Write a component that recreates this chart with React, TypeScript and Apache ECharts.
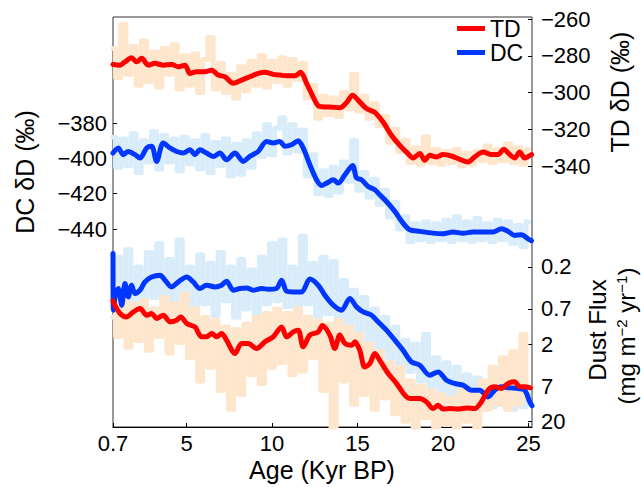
import React, { useEffect, useRef } from "react";
import * as echarts from "echarts";

const FONT = '"Liberation Sans", Arial, Helvetica, sans-serif';
const RED = "#ff0000";
const BLUE = "#0037ff";
const ORANGE_L = "#fde6cc";
const BLUE_L = "#d9ecfa";

const xTicks = [0.7, 5, 10, 15, 20, 25];
const dcTicks = [-440, -420, -400, -380];
const tdTicks = [-340, -320, -300, -280, -260];
const dustTicks = [0.2, 0.7, 2, 7, 20];

// raw (unsmoothed) records, shared age grid (kyr BP)
const rawAge = [0.7,1.0,1.3,1.6,1.9,2.2,2.5,2.8,3.1,3.4,3.7,4.0,4.3,4.6,4.9,5.2,5.5,5.8,6.1,6.4,6.7,7.0,7.3,7.6,7.9,8.2,8.5,8.8,9.1,9.4,9.7,10.0,10.3,10.6,10.9,11.2,11.5,11.8,12.1,12.4,12.7,13.0,13.3,13.6,13.9,14.2,14.5,14.8,15.1,15.4,15.7,16.0,16.3,16.6,16.9,17.2,17.5,17.8,18.1,18.4,18.7,19.0,19.3,19.6,19.9,20.2,20.5,20.8,21.1,21.4,21.7,22.0,22.3,22.6,22.9,23.2,23.5,23.8,24.1,24.4,24.7,25.0];
const tdDDRaw = [-276,-292,-263,-290,-275,-296,-272,-294,-278,-297,-276,-290,-274,-298,-280,-296,-279,-300,-282,-270,-298,-284,-300,-290,-303,-286,-299,-283,-296,-280,-297,-283,-294,-281,-296,-282,-293,-284,-303,-296,-314,-302,-312,-303,-313,-300,-309,-290,-310,-302,-314,-306,-318,-313,-327,-320,-332,-326,-338,-330,-339,-324,-338,-331,-339,-332,-338,-331,-340,-333,-339,-332,-337,-329,-338,-331,-337,-328,-338,-330,-339,-331];
const dcDDRaw = [-388,-405,-389,-404,-386,-408,-390,-402,-385,-406,-387,-402,-389,-407,-388,-403,-390,-406,-387,-408,-391,-404,-389,-410,-392,-409,-390,-405,-386,-399,-381,-398,-383,-377,-397,-381,-396,-384,-410,-398,-420,-407,-421,-405,-419,-402,-413,-390,-418,-408,-422,-412,-426,-418,-433,-425,-440,-433,-447,-437,-446,-436,-447,-437,-446,-435,-447,-433,-446,-436,-447,-434,-446,-437,-447,-435,-446,-436,-448,-438,-450,-436];
const dcDustRaw = [0.9,0.15,0.7,0.12,0.6,0.2,0.8,0.13,0.5,0.1,0.55,0.16,0.7,0.09,0.5,0.2,0.75,0.14,0.6,0.18,0.85,0.13,0.55,0.2,0.9,0.16,0.7,0.22,0.8,0.15,0.6,0.1,0.55,0.09,0.65,0.2,0.75,0.08,0.6,0.18,0.9,0.15,0.8,0.17,1.1,0.3,1.2,0.4,1.4,0.5,1.8,0.7,2.4,0.9,3.0,1.2,3.8,1.8,4.5,2.0,6.0,1.5,7.0,3.0,9.0,3.5,10,4.0,12,5.0,13,5.5,14,6.0,13,4.5,12,5.0,14,5.5,13,9];
const tdDustRaw = [0.35,1.6,0.5,2.2,0.6,1.8,0.55,2.4,0.7,1.6,0.5,2.6,0.6,1.9,0.45,3.0,0.7,6.0,0.9,4.0,1.0,8.0,1.2,14,1.3,9.0,1.1,5.0,0.9,6.5,0.8,4.0,0.7,3.5,0.8,5.0,0.7,4.5,0.9,3.0,1.0,8.0,1.1,24,1.0,6.0,1.2,12,1.5,9.0,2.0,14,2.5,10,3.5,16,4.0,20,6.0,24,7.0,18,8.0,24,9.0,22,10,24,8.0,20,9.0,24,6.0,14,4.0,12,3.0,14,2.5,12,1.5,10];

// smoothed records [age, value]
const tdDD = [[0.7,-284.7],[1.11,-285.1],[1.40,-283.3],[1.79,-281.1],[2.08,-283.3],[2.38,-281.4],[2.76,-285.1],[3.15,-284.1],[3.64,-285.1],[4.13,-284.7],[4.52,-286.0],[4.91,-285.1],[5.20,-289.6],[5.59,-288.7],[6.08,-288.7],[6.47,-287.8],[6.85,-290.5],[7.24,-291.4],[7.73,-295.0],[8.22,-293.2],[8.70,-291.4],[9.19,-289.6],[9.58,-289.0],[10.07,-290.1],[10.46,-290.5],[10.85,-290.9],[11.33,-290.9],[11.67,-289.0],[12.02,-295.0],[12.40,-302.3],[12.70,-307.2],[13.09,-307.8],[13.38,-307.8],[13.96,-308.3],[14.36,-305.4],[14.71,-301.4],[15.03,-304.1],[15.52,-308.7],[16.01,-310.8],[16.49,-316.0],[16.98,-323.2],[17.47,-328.7],[17.95,-333.2],[18.25,-335.6],[18.64,-333.2],[18.93,-336.8],[19.22,-334.1],[19.61,-335.0],[20.00,-333.7],[20.49,-334.5],[20.98,-336.3],[21.46,-337.8],[21.85,-335.0],[22.34,-332.3],[22.83,-333.7],[23.21,-333.7],[23.55,-330.8],[23.90,-333.7],[24.19,-335.6],[24.48,-332.3],[24.77,-335.6],[25.17,-333.7]];
const dcDD = [[0.7,-397.0],[1.01,-394.1],[1.30,-397.9],[1.59,-396.1],[1.99,-397.9],[2.28,-399.8],[2.67,-394.1],[2.96,-393.2],[3.25,-401.7],[3.64,-391.3],[4.03,-394.1],[4.42,-396.1],[4.81,-397.0],[5.20,-395.1],[5.49,-397.9],[5.78,-395.1],[6.17,-397.0],[6.56,-398.9],[6.95,-397.0],[7.34,-400.8],[7.83,-397.0],[8.31,-401.7],[8.70,-398.9],[9.19,-396.1],[9.68,-390.4],[10.07,-391.3],[10.46,-390.4],[10.75,-393.2],[11.14,-392.3],[11.53,-390.0],[11.82,-394.1],[12.21,-403.6],[12.60,-412.1],[12.89,-415.3],[13.19,-414.0],[13.58,-412.1],[13.87,-414.0],[14.26,-409.3],[14.71,-404.0],[14.94,-411.1],[15.23,-412.1],[15.62,-415.9],[16.01,-417.7],[16.30,-420.6],[16.69,-424.4],[17.18,-430.0],[17.66,-436.6],[18.05,-440.4],[18.64,-441.3],[19.42,-442.3],[20.00,-442.6],[20.58,-441.7],[21.17,-442.3],[21.75,-441.7],[22.34,-441.7],[22.92,-441.7],[23.41,-439.8],[23.80,-441.3],[24.19,-443.6],[24.58,-443.2],[24.97,-445.5],[25.17,-446.6]];
const dcDust = [[0.7,0.134],[0.72,0.728],[0.85,0.45],[1.01,0.381],[1.21,0.627],[1.40,0.328],[1.59,0.490],[1.79,0.345],[1.99,0.443],[2.28,0.401],[2.57,0.313],[2.96,0.270],[3.45,0.256],[3.74,0.297],[4.13,0.363],[4.52,0.313],[5.01,0.270],[5.39,0.313],[5.78,0.381],[6.17,0.345],[6.66,0.363],[7.05,0.345],[7.34,0.306],[7.73,0.401],[8.12,0.381],[8.51,0.374],[8.90,0.401],[9.39,0.381],[9.77,0.389],[10.26,0.381],[10.56,0.297],[10.85,0.413],[11.24,0.422],[11.73,0.422],[12.21,0.288],[12.70,0.345],[13.09,0.466],[13.58,0.627],[14.06,0.728],[14.55,0.513],[14.94,0.659],[15.33,0.766],[15.82,0.845],[16.20,1.03],[16.69,1.32],[17.18,1.78],[17.66,2.40],[18.15,3.40],[18.64,3.75],[19.22,5.06],[19.71,4.58],[20.20,5.87],[20.68,6.47],[21.17,6.81],[21.66,7.91],[22.14,7.91],[22.63,9.66],[23.02,7.91],[23.41,7.16],[23.90,7.38],[24.38,7.52],[24.77,7.91],[25.07,11.2],[25.2,12.6]];
const tdDust = [[0.7,0.55],[0.76,0.596],[1.11,0.803],[1.50,0.889],[1.89,0.766],[2.28,0.692],[2.67,0.845],[2.96,0.803],[3.25,0.931],[3.64,0.845],[4.03,1.03],[4.42,0.980],[4.66,0.889],[5.01,1.08],[5.49,1.20],[5.88,1.61],[6.17,1.61],[6.47,1.46],[6.76,1.61],[7.05,1.46],[7.34,1.78],[7.83,2.65],[8.22,1.96],[8.60,1.96],[9.09,2.28],[9.58,1.87],[10.07,1.61],[10.56,1.20],[10.85,1.61],[11.24,1.39],[11.53,1.32],[11.82,2.17],[12.21,1.53],[12.70,1.39],[12.95,1.15],[13.38,1.53],[13.67,2.28],[13.96,1.53],[14.26,1.96],[14.65,2.07],[14.84,1.87],[15.13,2.40],[15.42,3.95],[15.72,3.56],[16.01,2.65],[16.30,3.24],[16.79,4.81],[17.28,6.47],[17.76,9.18],[18.05,10.1],[18.64,10.1],[19.03,11.2],[19.42,13.7],[19.71,12.4],[20.00,13.9],[20.39,13.7],[20.88,13.9],[21.37,13.4],[21.85,13.7],[22.24,11.2],[22.63,7.91],[23.02,7.16],[23.41,7.52],[23.80,6.47],[24.19,6.17],[24.48,7.16],[24.77,7.16],[25.10,7.38]];

const zip = (a: number[], b: number[]) => a.map((x, i) => [x, b[i]]);
const fmtNeg = (v: number) => (v < 0 ? "\u2212" + Math.abs(v) : String(v));

function line(name: string, yAxisIndex: number, data: number[][], color: string, width: number, smooth: number | boolean, step: string | false) {
  return {
    name,
    type: "line",
    yAxisIndex,
    data,
    symbol: "none",
    showSymbol: false,
    smooth,
    step,
    clip: true,
    silent: true,
    itemStyle: { color },
    lineStyle: { color, width, join: "round", cap: "round" },
  };
}

const labelStyle = { fontSize: 22, color: "#000", fontFamily: FONT };

export default function App() {
  const ref = useRef<HTMLDivElement>(null);
  useEffect(() => {
    if (!ref.current) return;
    const chart = echarts.init(ref.current, null, { renderer: "svg" });
    chart.setOption({
      animation: false,
      backgroundColor: "#fff",
      grid: {
        left: 113, top: 17, width: 419, height: 410,
        show: true, borderColor: "#333", borderWidth: 1,
        containLabel: false, outerBoundsMode: "none",
      },
      legend: {
        data: [{ name: "TD" }, { name: "DC" }],
        orient: "vertical",
        left: 457, top: 17, padding: 0,
        itemWidth: 28, itemHeight: 5, itemGap: 1,
        icon: "rect",
        selectedMode: false,
        textStyle: { fontSize: 23, fontFamily: FONT, color: "#000", lineHeight: 23 },
      },
      xAxis: {
        type: "value", min: 0.7, max: 25.2,
        axisLine: { show: true, lineStyle: { color: "#000", width: 1 } },
        axisTick: { show: true, inside: true, length: 4, customValues: xTicks, lineStyle: { color: "#000" } },
        axisLabel: { ...labelStyle, customValues: xTicks, margin: 5, formatter: (v: number) => String(v) },
        splitLine: { show: false },
      },
      yAxis: [
        {
          type: "value", position: "left", min: -552, max: -320,
          axisLine: { show: false }, splitLine: { show: false },
          axisTick: { show: true, inside: true, length: 4, customValues: dcTicks, lineStyle: { color: "#000" } },
          axisLabel: { ...labelStyle, customValues: dcTicks, margin: 6, formatter: fmtNeg },
        },
        {
          type: "value", position: "right", min: -481.9, max: -258.9,
          axisLine: { show: false }, splitLine: { show: false },
          axisTick: { show: true, inside: true, length: 4, customValues: tdTicks, lineStyle: { color: "#000" } },
          axisLabel: { ...labelStyle, customValues: tdTicks, margin: 9, formatter: fmtNeg },
        },
        {
          type: "log", logBase: 10, position: "right", inverse: true, min: 0.000116, max: 23.7,
          axisLine: { show: false }, splitLine: { show: false }, minorTick: { show: false },
          axisTick: { show: true, inside: true, length: 4, customValues: dustTicks, lineStyle: { color: "#000" } },
          axisLabel: { ...labelStyle, customValues: dustTicks, margin: 9, formatter: (v: number) => String(+Number(v).toPrecision(2)) },
        },
      ],
      series: [
        line("TD raw", 1, zip(rawAge, tdDDRaw), ORANGE_L, 5, false, "middle"),
        line("DC raw", 0, zip(rawAge, dcDDRaw), BLUE_L, 5, false, "middle"),
        line("DC dust raw", 2, zip(rawAge, dcDustRaw), BLUE_L, 5, false, "middle"),
        line("TD dust raw", 2, zip(rawAge, tdDustRaw), ORANGE_L, 5, false, "middle"),
        line("DC", 0, dcDD, BLUE, 5, 0.3, false),
        line("DC", 2, dcDust, BLUE, 5, 0.3, false),
        line("TD", 1, tdDD, RED, 5, 0.3, false),
        line("TD", 2, tdDust, RED, 5, 0.3, false),
      ],
      graphic: [
        { type: "text", x: 25, y: 172, rotation: Math.PI / 2, style: { text: "DC δD (‰)", fontSize: 25, fontFamily: FONT, fill: "#000", align: "center", verticalAlign: "middle" } },
        { type: "text", x: 620, y: 92, rotation: Math.PI / 2, style: { text: "TD δD (‰)", fontSize: 25, fontFamily: FONT, fill: "#000", align: "center", verticalAlign: "middle" } },
        { type: "text", x: 597, y: 330, rotation: Math.PI / 2, style: { text: "Dust Flux", fontSize: 24, fontFamily: FONT, fill: "#000", align: "center", verticalAlign: "middle" } },
        {
          type: "text", x: 626, y: 336, rotation: Math.PI / 2,
          style: {
            text: "(mg m{sup|\u22122} yr{sup|\u22121})", fontSize: 24, fontFamily: FONT, fill: "#000", align: "center", verticalAlign: "middle",
            rich: { sup: { fontSize: 15, fontFamily: FONT, fill: "#000", verticalAlign: "top" } },
          },
        },
        { type: "text", x: 322, y: 470, style: { text: "Age (Kyr BP)", fontSize: 25, fontFamily: FONT, fill: "#000", align: "center", verticalAlign: "middle" } },
      ],
    });
    return () => chart.dispose();
  }, []);
  return <div ref={ref} style={{ position: "fixed", left: 0, top: 0, width: 641, height: 487 }} />;
}
